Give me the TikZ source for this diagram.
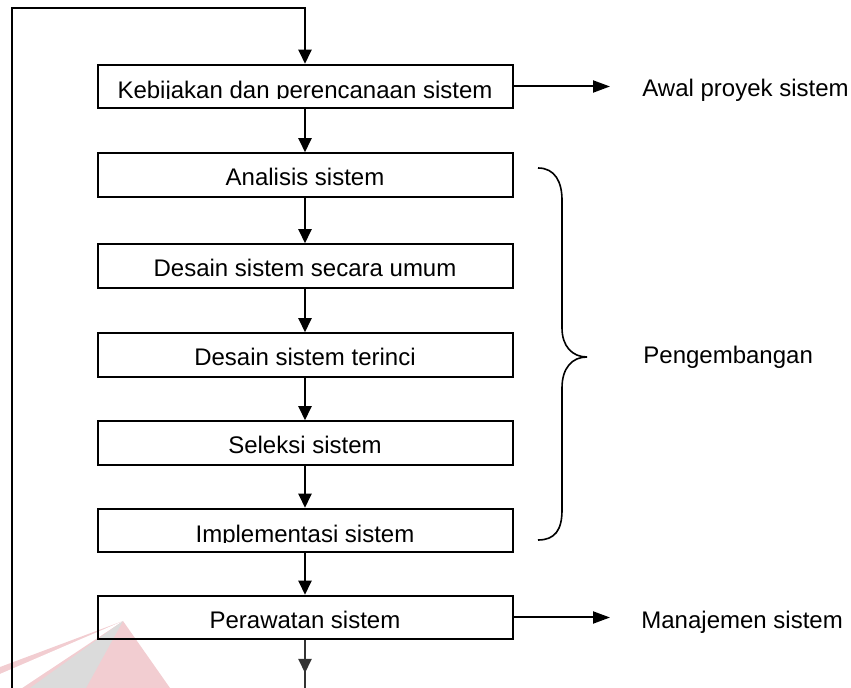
\documentclass[tikz,border=0pt]{standalone}
\usepackage{fontspec}
\setmainfont{Liberation Sans}
\usetikzlibrary{arrows.meta}
\definecolor{wmred}{RGB}{242,205,209}
\definecolor{wmgrey}{RGB}{219,219,219}
\begin{document}
\begin{tikzpicture}[x=0.5pt,y=-0.5pt,
  box/.style={draw,line width=1pt,minimum width=207.5pt,minimum height=21.75pt,inner sep=0pt},
  lbl/.style={anchor=base,font=\fontsize{12}{14}\selectfont,inner sep=0pt},
  conn/.style={line width=1pt,-{Triangle[width=6.5pt,length=7pt]}},
  hconn/.style={line width=1pt,-{Triangle[width=6pt,length=8.5pt]}},
  bracestyle/.style={line width=0.8pt}]
\useasboundingbox (0,0) rectangle (851,688);
% watermark
\fill[wmred] (123,621) -- (0,667) -- (0,688) -- (170,688) -- cycle;
\fill[white] (123,621) -- (0,674) -- (0,688) -- (22,688) -- cycle;
\fill[wmgrey] (123,621) -- (30,688) -- (86,688) -- cycle;
% boxes
\node[box] (b1) at (305,86.5) {};
\node[box] (b2) at (305,175) {};
\node[box] (b3) at (305,266) {};
\node[box] (b4) at (305,355) {};
\node[box] (b5) at (305,443) {};
\node[box] (b6) at (305,530.5) {};
\node[box] (b7) at (305,617.5) {};
% texts
\begin{scope}
\clip (97,60) rectangle (512,98.5);
\node[lbl] (t1) at (305,98.5) {Kebijakan dan perencanaan sistem};
\end{scope}
\node[lbl] (t2) at (305,186) {Analisis sistem};
\node[lbl] (t3) at (305,277) {Desain sistem secara umum};
\node[lbl] (t4) at (305,366) {Desain sistem terinci};
\node[lbl] (t5) at (305,454) {Seleksi sistem};
\begin{scope}
\clip (97,500) rectangle (512,543);
\node[lbl] (t6) at (305,543) {Implementasi sistem};
\end{scope}
\node[lbl] (t7) at (305,629) {Perawatan sistem};
% vertical connectors
\draw[conn] (b1) -- (b2);
\draw[conn] (b2) -- (b3);
\draw[conn] (b3) -- (b4);
\draw[conn] (b4) -- (b5);
\draw[conn] (b5) -- (b6);
\draw[conn] (b6) -- (b7);
% feedback loop
\coordinate (lb) at (12,690);
\coordinate (lt) at (12,8);
\draw[conn] (lb) -- (lt) -| (b1.north);
% bottom exit
\coordinate (be) at (305,690);
\coordinate (bt) at (305,673);
\draw[line width=1pt,black!80] (b7.south) -- (be);
\draw[conn,black!80] (b7.south) -- (bt);
% side arrows and labels
\coordinate (a1) at (610,86.5);
\draw[hconn] (b1.east) -- (a1);
\node[lbl,anchor=base west] (l1) at (642,97) {Awal proyek sistem};
\coordinate (a7) at (610,617.5);
\draw[hconn] (b7.east) -- (a7);
\node[lbl,anchor=base west] (l7) at (641,629) {Manajemen sistem};
% brace
\draw[bracestyle] (538,168) .. controls (555,168) and (562,182) .. (562,200) -- (562,328)
  .. controls (562,346) and (572,357) .. (587,357)
  .. controls (572,357) and (562,368) .. (562,388) -- (562,510)
  .. controls (562,530) and (555,540) .. (538,540);
\node[lbl,anchor=base west] (lp) at (643,364) {Pengembangan};
\end{tikzpicture}
\end{document}
